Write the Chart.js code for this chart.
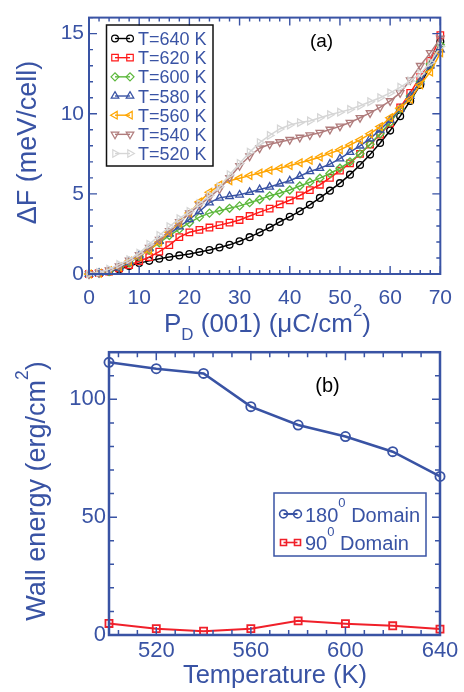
<!DOCTYPE html>
<html><head><meta charset="utf-8">
<script src="https://cdn.jsdelivr.net/npm/chart.js@4.4.1/dist/chart.umd.min.js"></script>
<style>
html,body{margin:0;padding:0;background:#fff;width:464px;height:692px;overflow:hidden;}
#wa{position:absolute;left:0;top:0;width:464px;height:346px;z-index:1;}
#wb{position:absolute;left:0;top:336px;width:464px;height:356px;z-index:2;}
canvas{display:block;background:transparent;}
</style></head><body>
<div id="wa"><canvas id="ca" width="464" height="346"></canvas></div>
<div id="wb"><canvas id="cb" width="464" height="356"></canvas></div>
<script>
// ---------- DATA: panel (a) ----------
const polarization = [0,2,4,6,8,10,12,14,16,18,20,22,24,26,28,30,32,34,36,38,40,42,44,46,48,50,52,54,56,58,60,62,64,66,68,70];
const seriesLabelsA = ['T=640 K','T=620 K','T=600 K','T=580 K','T=560 K','T=540 K','T=520 K'];
const dF_640 = [0,0.05,0.15,0.3,0.5,0.68,0.82,0.95,1.06,1.16,1.25,1.37,1.5,1.65,1.82,2.04,2.3,2.6,2.9,3.25,3.57,3.92,4.32,4.75,5.2,5.67,6.2,6.8,7.45,8.18,8.95,9.85,10.8,11.8,13.0,14.5];
const dF_620 = [0,0.05,0.15,0.35,0.55,0.8,1.05,1.4,1.8,2.3,2.6,2.75,2.9,3.05,3.2,3.37,3.62,3.86,4.08,4.35,4.6,4.9,5.24,5.57,6.0,6.45,6.9,7.5,8.08,8.7,9.4,10.4,11.3,12.3,13.3,14.9];
const dF_600 = [0,0.05,0.15,0.4,0.7,1.1,1.5,1.95,2.4,2.8,3.2,3.55,3.8,3.95,4.1,4.25,4.45,4.65,4.88,5.04,5.24,5.49,5.73,5.98,6.27,6.6,7.0,7.5,8.1,8.75,9.45,10.3,11.1,12.0,13.1,14.3];
const dF_580 = [0,0.05,0.15,0.4,0.75,1.15,1.6,2.05,2.5,2.95,3.4,3.9,4.45,4.75,4.85,4.94,5.1,5.27,5.43,5.63,5.82,6.1,6.4,6.6,6.86,7.2,7.6,8.0,8.45,9.0,9.6,10.3,11.1,12.0,13.0,14.0];
const dF_560 = [0,0.05,0.2,0.45,0.8,1.1,1.5,2.0,2.6,3.2,3.8,4.5,5.1,5.55,5.82,5.98,6.14,6.3,6.47,6.6,6.76,6.94,7.1,7.3,7.53,7.75,8.05,8.37,8.75,9.2,9.75,10.35,10.9,11.8,12.6,13.8];
const dF_540 = [0,0.08,0.25,0.5,0.85,1.2,1.65,2.15,2.7,3.25,3.8,4.3,4.8,5.3,6.0,6.75,7.35,7.85,8.1,8.24,8.38,8.52,8.67,8.82,9.02,9.22,9.45,9.75,10.05,10.4,10.8,11.3,12.1,13.0,13.8,14.7];
const dF_520 = [0,0.1,0.3,0.6,0.9,1.3,1.85,2.4,2.95,3.45,3.9,4.4,4.9,5.45,6.2,6.9,7.6,8.2,8.65,9.05,9.3,9.45,9.55,9.75,9.94,10.1,10.27,10.5,10.75,11.0,11.3,11.65,12.05,12.5,13.2,14.2];
const xTicksA = [0,10,20,30,40,50,60,70];
const yTicksA = [0,5,10,15];

// ---------- DATA: panel (b) ----------
const temperatures = [500,520,540,560,580,600,620,640];
const wall180 = [115.7,113.0,111.0,96.9,89.1,84.2,77.8,67.3];
const wall90 = [4.9,2.7,1.6,2.7,6.0,4.8,3.9,2.5];
const seriesLabelsB = ['180','90'];
const xTicksB = [520,560,600,640];
const yTicksB = [0,50,100];

// ---------- STYLE ----------
const FONT = "'Liberation Sans', Arial, Helvetica, sans-serif";
const AXIS = '#3953a4';
const stylesA = [
  {c:'#000000', ps:'circle',   rot:0,   r:3.4},
  {c:'#ff1a1a', ps:'rect',     rot:0,   r:4.6},
  {c:'#5cb83c', ps:'rectRot',  rot:0,   r:4.0},
  {c:'#3953a4', ps:'triangle', rot:0,   r:4.4},
  {c:'#ffa500', ps:'triangle', rot:270, r:4.4},
  {c:'#b07c7c', ps:'triangle', rot:180, r:4.4},
  {c:'#d6d6d6', ps:'triangle', rot:90,  r:4.4}
];
const seriesA = [dF_640,dF_620,dF_600,dF_580,dF_560,dF_540,dF_520];

function richWidth(ctx, segs, size){
  let w=0;
  for(const s of segs){ const fs = s.v ? size*(s.scale||0.65) : size; ctx.font = fs+'px '+FONT; w += ctx.measureText(s.t).width; }
  return w;
}
function drawRich(ctx, segs, x, y, size, color, align){
  const w = richWidth(ctx, segs, size);
  let cx = align==='center' ? x - w/2 : (align==='right' ? x - w : x);
  ctx.fillStyle = color; ctx.textBaseline = 'alphabetic'; ctx.textAlign = 'left';
  for(const s of segs){
    const fs = s.v ? size*(s.scale||0.65) : size;
    ctx.font = fs+'px '+FONT;
    const dy = s.v==='sub' ? size*(s.drop||0.3) : (s.v==='sup' ? -size*(s.rise||0.6) : 0);
    ctx.fillText(s.t, cx, y+dy);
    cx += ctx.measureText(s.t).width;
  }
}
function marker(ctx, st, x, y, lw){
  ctx.save();
  ctx.strokeStyle = st.c; ctx.fillStyle = 'rgba(0,0,0,0)'; ctx.lineWidth = lw;
  Chart.helpers.drawPoint(ctx, {pointStyle: st.ps, rotation: st.rot, radius: st.r, borderWidth: lw}, x, y);
  ctx.restore();
}
function frameAndTicks(chart, o){
  const {ctx, chartArea:a, scales:{x,y}} = chart;
  ctx.save();
  ctx.strokeStyle = AXIS; ctx.lineWidth = o.tickW; ctx.lineCap = 'butt';
  ctx.beginPath();
  const vx = (v,L)=>{ const p = x.getPixelForValue(v); ctx.moveTo(p,a.bottom); ctx.lineTo(p,a.bottom-L); ctx.moveTo(p,a.top); ctx.lineTo(p,a.top+L); };
  const vy = (v,L)=>{ const p = y.getPixelForValue(v); ctx.moveTo(a.left,p); ctx.lineTo(a.left+L,p); ctx.moveTo(a.right,p); ctx.lineTo(a.right-L,p); };
  for(let v=o.xMinStart; v<=x.max+1e-9; v+=o.xMinStep) vx(v,o.minL);
  for(let v=o.yMinStart; v<=y.max+1e-9; v+=o.yMinStep) vy(v,o.minL);
  o.xMaj.forEach(v=>vx(v,o.majL));
  o.yMaj.forEach(v=>vy(v,o.majL));
  ctx.stroke();
  ctx.lineWidth = o.frameW;
  ctx.strokeRect(a.left, a.top, a.right-a.left, a.bottom-a.top);
  ctx.restore();
}

// ---------- CHART (a) ----------
const overlayA = {
  id:'overlayA',
  afterDraw(chart){
    const ctx = chart.ctx;
    frameAndTicks(chart, {tickW:1.4, frameW:2, minL:4, majL:8, xMinStart:0, xMinStep:2, yMinStart:0, yMinStep:1, xMaj:xTicksA, yMaj:yTicksA});
    ctx.save();
    ctx.strokeStyle = '#111'; ctx.lineWidth = 1.5;
    ctx.strokeRect(106.5, 25, 106.5, 141);
    for(let i=0;i<seriesLabelsA.length;i++){
      const st = stylesA[i];
      const cy = 38.5 + i*19.17;
      ctx.strokeStyle = st.c; ctx.lineWidth = 1.4;
      ctx.beginPath(); ctx.moveTo(115,cy); ctx.lineTo(130,cy); ctx.stroke();
      marker(ctx, st, 115, cy, 1.2);
      marker(ctx, st, 130, cy, 1.2);
      drawRich(ctx, [{t:seriesLabelsA[i]}], 138, cy+6.5, 18, AXIS, 'left');
    }
    drawRich(ctx, [{t:'(a)'}], 321.5, 47, 19, '#000', 'center');
    drawRich(ctx, [{t:'P'},{t:'D',v:'sub',drop:0.3},{t:' (001) (μC/cm'},{t:'2',v:'sup',rise:0.62},{t:')'}], 267.5, 332, 26, AXIS, 'center');
    ctx.save(); ctx.translate(36, 142.5); ctx.rotate(-Math.PI/2);
    drawRich(ctx, [{t:'ΔF (meV/cell)'}], 0, 0, 27, AXIS, 'center');
    ctx.restore();
    ctx.restore();
  }
};

new Chart(document.getElementById('ca'), {
  type:'line',
  data:{
    datasets: seriesA.map((arr,i)=>({
      label: seriesLabelsA[i],
      data: polarization.map((p,k)=>({x:p, y:arr[k]})),
      borderColor: stylesA[i].c, borderWidth:1.5,
      pointStyle: stylesA[i].ps, pointRotation: stylesA[i].rot, pointRadius: stylesA[i].r,
      pointBorderColor: stylesA[i].c, pointBackgroundColor:'rgba(0,0,0,0)', pointBorderWidth:1.3,
      tension:0, fill:false, clip:false, order: 6-i
    }))
  },
  options:{
    responsive:false, animation:false, events:[], devicePixelRatio:1,
    layout:{padding:{left:0, top:4, right:18, bottom:0}},
    plugins:{legend:{display:false}, tooltip:{enabled:false}},
    scales:{
      x:{type:'linear', min:0, max:70,
        grid:{display:false, drawTicks:false}, border:{display:false},
        ticks:{color:AXIS, font:{family:FONT, size:21}, padding:12, maxRotation:0, autoSkip:false},
        afterBuildTicks: s=>{ s.ticks = xTicksA.map(v=>({value:v})); },
        afterFit: s=>{ s.height = 72; }
      },
      y:{type:'linear', min:0, max:16,
        grid:{display:false, drawTicks:false}, border:{display:false},
        ticks:{color:AXIS, font:{family:FONT, size:21}, padding:5, autoSkip:false},
        afterBuildTicks: s=>{ s.ticks = yTicksA.map(v=>({value:v})); },
        afterFit: s=>{ s.width = 89; }
      }
    }
  },
  plugins:[overlayA]
});

// ---------- CHART (b) ----------
const stylesB = [
  {c:'#3953a4', ps:'circle', rot:0, r:4.6, lw:2.6, plw:1.8},
  {c:'#f0202a', ps:'rect',   rot:0, r:5.0, lw:2.0, plw:1.8}
];
const seriesB = [wall180, wall90];

const overlayB = {
  id:'overlayB',
  afterDraw(chart){
    const ctx = chart.ctx;
    frameAndTicks(chart, {tickW:1.5, frameW:2.5, minL:5, majL:8, xMinStart:504, xMinStep:8, yMinStart:0, yMinStep:10, xMaj:xTicksB, yMaj:yTicksB});
    ctx.save();
    ctx.strokeStyle = AXIS; ctx.lineWidth = 1.5;
    ctx.strokeRect(274, 157, 152, 63);
    const rows = [178, 206.5];
    for(let i=0;i<seriesLabelsB.length;i++){
      const st = stylesB[i]; const cy = rows[i];
      ctx.strokeStyle = st.c; ctx.lineWidth = st.lw*0.8;
      ctx.beginPath(); ctx.moveTo(283.5,cy); ctx.lineTo(297.5,cy); ctx.stroke();
      marker(ctx, {c:st.c, ps:st.ps, rot:0, r:st.r*0.85}, 283.5, cy, 1.6);
      marker(ctx, {c:st.c, ps:st.ps, rot:0, r:st.r*0.85}, 297.5, cy, 1.6);
      drawRich(ctx, [{t:seriesLabelsB[i]},{t:'0',v:'sup',scale:0.65,rise:0.72},{t:' Domain'}], 305, cy+7.5, 20, AXIS, 'left');
    }
    drawRich(ctx, [{t:'(b)'}], 327.5, 56, 20, '#000', 'center');
    drawRich(ctx, [{t:'Temperature (K)'}], 275, 347, 25.5, AXIS, 'center');
    ctx.save(); ctx.translate(45, 155); ctx.rotate(-Math.PI/2);
    drawRich(ctx, [{t:'Wall energy (erg/cm'},{t:'2',v:'sup',rise:0.62},{t:')'}], 0, 0, 27, AXIS, 'center');
    ctx.restore();
    ctx.restore();
  }
};

new Chart(document.getElementById('cb'), {
  type:'line',
  data:{
    datasets: seriesB.map((arr,i)=>({
      label: seriesLabelsB[i],
      data: temperatures.map((t,k)=>({x:t, y:arr[k]})),
      borderColor: stylesB[i].c, borderWidth: stylesB[i].lw,
      pointStyle: stylesB[i].ps, pointRadius: stylesB[i].r,
      pointBorderColor: stylesB[i].c, pointBackgroundColor:'rgba(0,0,0,0)', pointBorderWidth: stylesB[i].plw,
      tension:0, fill:false, clip:false
    }))
  },
  options:{
    responsive:false, animation:false, events:[], devicePixelRatio:1,
    layout:{padding:{left:0, top:12, right:24, bottom:0}},
    plugins:{legend:{display:false}, tooltip:{enabled:false}},
    scales:{
      x:{type:'linear', min:500, max:640,
        grid:{display:false, drawTicks:false}, border:{display:false},
        ticks:{color:AXIS, font:{family:FONT, size:22}, padding:3, maxRotation:0, autoSkip:false},
        afterBuildTicks: s=>{ s.ticks = xTicksB.map(v=>({value:v})); },
        afterFit: s=>{ s.height = 57; }
      },
      y:{type:'linear', min:0, max:120,
        grid:{display:false, drawTicks:false}, border:{display:false},
        ticks:{color:AXIS, font:{family:FONT, size:22}, padding:3, autoSkip:false},
        afterBuildTicks: s=>{ s.ticks = yTicksB.map(v=>({value:v})); },
        afterFit: s=>{ s.width = 109; }
      }
    }
  },
  plugins:[overlayB]
});
</script>
</body></html>
